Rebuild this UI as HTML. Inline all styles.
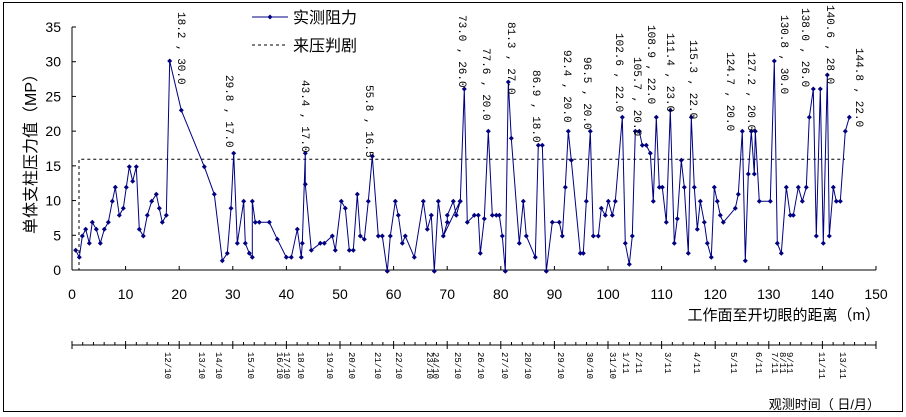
<!DOCTYPE html>
<html><head><meta charset="utf-8"><style>
html,body{margin:0;padding:0;background:#fff;}
svg{display:block;font-family:"Liberation Sans","Noto Sans CJK SC",sans-serif;}
</style></head><body>
<svg id="s" width="906" height="417" viewBox="0 0 906 417" xmlns="http://www.w3.org/2000/svg">
<rect x="3.5" y="2.5" width="899" height="409" fill="#fff" stroke="#000"/>
<g id="g"></g>
<text x="0" y="0" font-size="16" transform="translate(36,150) rotate(-90)" text-anchor="middle">单体支柱压力值（MP）</text>
<line x1="252" y1="17" x2="288" y2="17" stroke="#000080" stroke-width="1"/>
<path d="M270 14.5 L272.5 17 L270 19.5 L267.5 17Z" fill="#000080"/>
<text x="293" y="23" font-size="16">实测阻力</text>
<line x1="252" y1="45" x2="288" y2="45" stroke="#000" stroke-dasharray="3,3"/>
<text x="293" y="51" font-size="16">来压判剧</text>
<text x="880" y="320" font-size="15" text-anchor="end">工作面至开切眼的距离（m）</text>
<text x="880" y="409" font-size="13" text-anchor="end">观测时间（ 日/月）</text>
</svg>
<script>
var NS="http://www.w3.org/2000/svg",g=document.getElementById('g');
function el(t,a,txt){var e=document.createElementNS(NS,t);for(var k in a)e.setAttribute(k,a[k]);if(txt!=null)e.textContent=txt;g.appendChild(e);return e;}
var X0=72,X1=876,Y0=270,Y35=27;
function mx(m){return X0+(X1-X0)*m/150;}
el('line',{x1:X0,y1:Y35,x2:X0,y2:Y0,stroke:'#000'});
el('line',{x1:X0,y1:Y0,x2:X1,y2:Y0,stroke:'#000'});
for(var v=0;v<=35;v+=5){var y=Y0-(Y0-Y35)*v/35;el('line',{x1:X0,y1:y,x2:X0+4,y2:y,stroke:'#000'});el('text',{x:61,y:y+5,'font-size':14,'text-anchor':'end'},v);}
for(var m=0;m<=150;m+=10){var x=mx(m);el('line',{x1:x,y1:Y0,x2:x,y2:Y0-4,stroke:'#000'});el('text',{x:x,y:299,'font-size':14,'text-anchor':'middle'},m);}
el('path',{d:'M72 270 L79 270 L79 159.3 L845 159.3',fill:'none',stroke:'#000','stroke-dasharray':'3,3'});
var z1=[227,751,238,772,247,708,257,688,268,730,277,667,289,688,301,730,313,688,325,667,337,604,346,562,358,646,370,625,379,562,388,500,398,544,409,500,418,688,430,708,442,646,455,604,469,583,478,625,487,667,499,646,509,183,544,331,613,500,643,583,667,782,682,760,693,625,701,460,712,730,731,604,736,730,748,760,757,772,757,604,766,667,778,667,808,667,832,718,859,772,874,772,892,688,904,772,907,730,916,460,916,553,934,751,961,730,973,730,997,708,1006,751,1024,604,1036,625,1048,751,1060,751,1072,583,1081,708,1093,718,1105,604,1117,469,1135,708,1147,708,1162,814,1171,708,1186,604,1195,646,1207,730,1216,708,1243,772,1270,604,1282,688,1294,646,1303,814,1315,604,1330,708,1342,667,1342,646,1360,604,1369,646,1380,604];
var z2=[10,708,22,667,22,646,40,604,49,646,61,604,73,267,82,667,103,646,115,646,121,760,133,656,145,394,157,646,169,646,178,646,187,708,196,814,205,246,214,415,238,730,250,604,259,708,286,772,295,436,307,436,319,814,337,667,358,667,367,708,376,562,385,394,394,481,421,760,430,760,439,604,451,394,460,708,475,708,484,625,496,646,505,604,517,646,526,604,547,352,556,730,568,793,577,708,586,394,598,394,607,436,619,436,631,460,640,604,649,352,658,562,667,562,679,667,691,331,703,730,712,656,724,481,733,562,745,760,754,352,763,562,772,688,781,604,793,667,802,730,814,772,823,562,832,604,841,646,850,667,886,625,895,583,907,394,916,782,925,522,934,394,943,522,946,394,958,604,991,604,1003,183,1012,730,1024,760,1039,562,1051,646,1060,646,1075,562,1087,604,1099,562,1108,352,1120,267,1129,708,1141,267,1150,730,1162,225,1168,708,1180,562,1189,604,1201,604,1216,394,1228,352];
var pts=[];
for(var i=0;i<z1.length;i+=2)pts.push([z1[i]/3,z1[i+1]/3]);
for(var i=0;i<z2.length;i+=2)pts.push([440+z2[i]/3,z2[i+1]/3]);
el('polyline',{points:pts.map(function(p){return p[0].toFixed(1)+','+p[1].toFixed(1)}).join(' '),fill:'none',stroke:'#000080','stroke-width':1});
var d='';pts.forEach(function(p){d+='M'+p[0].toFixed(1)+' '+(p[1]-2.5).toFixed(1)+'l2.5 2.5l-2.5 2.5l-2.5 -2.5z';});
el('path',{d:d,fill:'#000080'});
var ann=[['18.2 , 30.0',182,12],['29.8 , 17.0',230,75],['43.4 , 17.0',306,80],['55.8 , 16.5',370,85],['73.0 , 26.0',463,15],['77.6 , 20.0',487,48],['81.3 , 27.0',512,22],['86.9 , 18.0',537,70],['92.4 , 20.0',568,50],['96.5 , 20.0',588,57],['102.6 , 22.0',620,33],['105.7 , 20.0',638,57],['108.9 , 22.0',652,25],['111.4 , 23.0',671,33],['115.3 , 22.0',694,40],['124.7 , 20.0',731,52],['127.2 , 20.0',752,52],['130.8 , 30.0',785,15],['138.0 , 26.0',806,8],['140.6 , 28.0',831,5],['144.8 , 22.0',860,48]];
ann.forEach(function(a){el('text',{x:0,y:0,'font-size':11,'font-family':'Liberation Mono, monospace',transform:'translate('+(a[1]-4)+','+a[2]+') rotate(90)'},a[0]);});
var DY=345;
el('line',{x1:X0,y1:DY,x2:X1,y2:DY,stroke:'#000'});
for(var m=0;m<=150;m+=2){var x=mx(m);var big=(m%10==0);el('line',{x1:x,y1:DY-(big?4:3),x2:x,y2:DY+(big?4:0),stroke:'#000'});}
var dates=[['12/10',168],['13/10',202],['14/10',219],['15/10',251],['16/10',280],['17/10',287],['18/10',301],['19/10',330],['20/10',352],['21/10',378],['22/10',399],['23/10',430],['24/10',436],['25/10',458],['26/10',481],['27/10',505],['28/10',528],['29/10',561],['30/10',590],['31/10',613],['1/11',626],['2/11',639],['3/11',668],['4/11',697],['5/11',734],['6/11',759],['7/11',775],['8/11',783],['9/11',790],['11/11',822],['13/11',843]];
dates.forEach(function(a){el('text',{x:0,y:0,'font-size':9,'font-family':'Liberation Mono, monospace',transform:'translate('+(a[1]-3)+',352) rotate(90)'},a[0]);});
</script>
</body></html>
